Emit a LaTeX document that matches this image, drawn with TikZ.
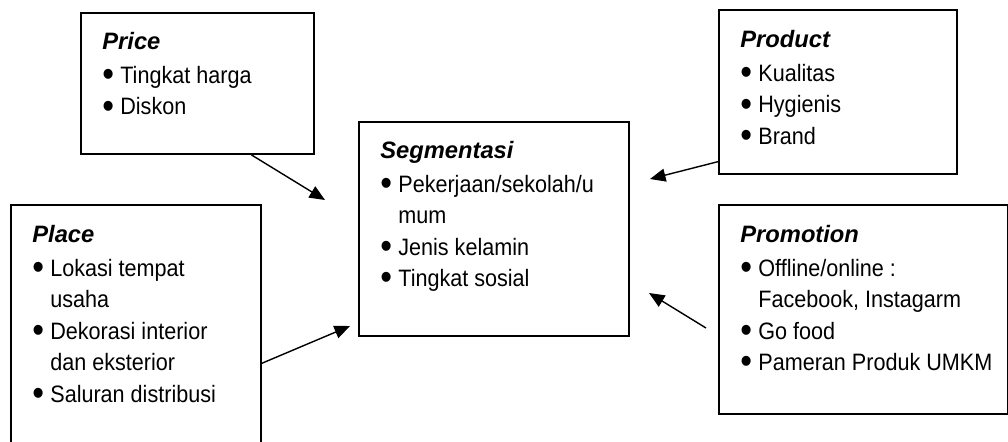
\documentclass[tikz,border=0pt]{standalone}
\usepackage{fontspec}
\setmainfont[FakeStretch=0.91]{Liberation Sans}
\newfontfamily\titlefont{Liberation Sans}
\usetikzlibrary{arrows.meta,calc}

\newcommand{\itm}[1]{\makebox[0.36cm][l]{\smash{\raisebox{-0.25ex}{\scalebox{1.55}{\textbullet}}}}#1}
\newcommand{\cont}[1]{\hspace*{0.36cm}#1}
\newcommand{\ttl}[1]{\strut{\titlefont\bfseries\itshape #1}}

\begin{document}
\begin{tikzpicture}[
    box/.style={draw, line width=1.1pt, anchor=north west, inner sep=0pt},
    txt/.style={anchor=north west, align=left, inner sep=0pt, font=\fontsize{13.5}{17.9}\selectfont},
    link/.style={-{Triangle[length=0.31cm,width=0.26cm]}, line width=0.8pt}]
                    \useasboundingbox[fill=white] (0,0) rectangle (20.16,8.82);

                    % Boxes, placed at explicit coordinates
                    \node[box, minimum width=4.66cm, minimum height=2.82cm] (Price)     at (1.60,8.58) {};
                    \node[box, minimum width=4.76cm, minimum height=3.28cm] (Product)   at (14.36,8.64) {};
                    \node[box, minimum width=5.40cm, minimum height=4.28cm] (Segment)   at (7.16,6.40) {};
                    \node[box, minimum width=5.00cm, minimum height=5.14cm] (Place)     at (0.20,4.74) {};
                    \node[box, minimum width=5.78cm, minimum height=4.18cm] (Promotion) at (14.36,4.74) {};

                    % Texts inside the boxes
                    \node[txt] (PriceText) at ([shift={(0.44,-0.30)}]Price.north west)
                        {\ttl{Price}\\[1.5pt] \itm{Tingkat harga}\\ \itm{Diskon}};
                    \node[txt] (ProductText) at ([shift={(0.44,-0.32)}]Product.north west)
                        {\ttl{Product}\\[1.5pt] \itm{Kualitas}\\ \itm{Hygienis}\\ \itm{Brand}};
                    \node[txt] (SegmentText) at ([shift={(0.44,-0.30)}]Segment.north west)
                        {\ttl{Segmentasi}\\[1.5pt] \itm{Pekerjaan/sekolah/u}\\ \cont{mum}\\ \itm{Jenis kelamin}\\ \itm{Tingkat sosial}};
                    \node[txt] (PlaceText) at ([shift={(0.44,-0.32)}]Place.north west)
                        {\ttl{Place}\\[1.5pt] \itm{Lokasi tempat}\\ \cont{usaha}\\ \itm{Dekorasi interior}\\ \cont{dan eksterior}\\ \itm{Saluran distribusi}};
                    \node[txt] (PromotionText) at ([shift={(0.44,-0.32)}]Promotion.north west)
                        {\ttl{Promotion}\\[1.5pt] \itm{Offline/online :}\\ \cont{Facebook, Instagarm}\\ \itm{Go food}\\ \itm{Pameran Produk UMKM}};

                    % Arrow ends near the Segmentasi box
                    \coordinate (PriceTip)     at (6.50,4.82);
                    \coordinate (ProductTip)   at (13.00,5.24);
                    \coordinate (PlaceTip)     at (7.00,2.30);
                    \coordinate (PromotionTip) at (12.98,2.96);
                    \coordinate (PromotionEnd) at (14.12,2.26);

                    % Arrows
                    \draw[link] ($(Price.south west)!0.73!(Price.south east)$) -- (PriceTip);
                    \draw[link] ($(Product.north west)!0.92!(Product.south west)$) -- (ProductTip);
                    \draw[link] ($(Place.north east)!0.615!(Place.south east)$) -- (PlaceTip);
                    \draw[link] (PromotionEnd) -- (PromotionTip);
                \end{tikzpicture}
\end{document}
